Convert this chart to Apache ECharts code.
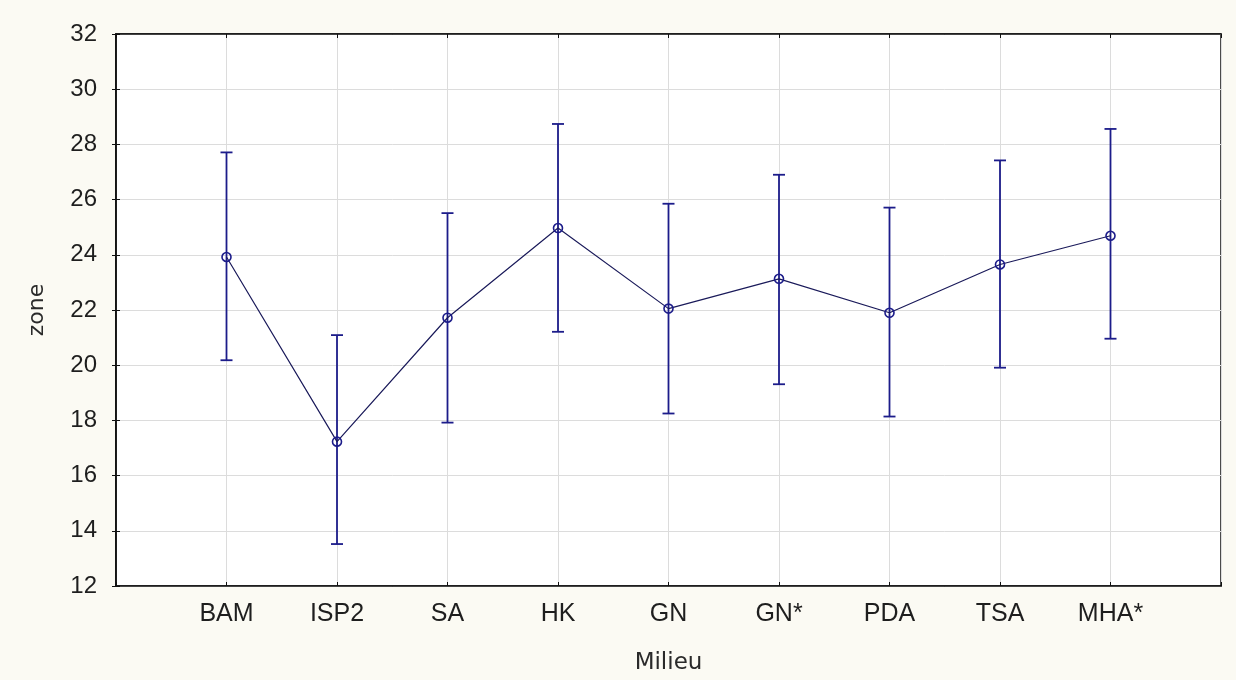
<!DOCTYPE html>
<html>
<head>
<meta charset="utf-8">
<script src="https://cdn.jsdelivr.net/npm/echarts@6/dist/echarts.min.js"></script>
<style>
html,body{margin:0;padding:0;background:#fbfaf3;}
#c{width:1236px;height:680px;}
</style>
</head>
<body>
<div id="c"></div>
<script>
const categories = ['BAM','ISP2','SA','HK','GN','GN*','PDA','TSA','MHA*'];
const means = [23.92, 17.23, 21.72, 24.97, 22.05, 23.13, 21.9, 23.65, 24.69];
const upper = [27.71, 21.09, 25.51, 28.74, 25.85, 26.9, 25.71, 27.42, 28.56];
const lower = [20.18, 13.52, 17.92, 21.21, 18.25, 19.31, 18.14, 19.91, 20.96];
const yTicks = [12, 14, 16, 18, 20, 22, 24, 26, 28, 30, 32];

const navy = '#1c1c8a';
const font = '"Liberation Sans", Arial, sans-serif';
const nameFont = '"DejaVu Sans", sans-serif';

const lineData = means.map((m, i) => [i + 1, m]);
const errData = means.map((m, i) => [i + 1, lower[i], upper[i]]);

const chart = echarts.init(document.getElementById('c'));
chart.setOption({
  backgroundColor: '#fbfaf3',
  animation: false,
  grid: {left: 116, right: 15, top: 34, bottom: 93, show: true, backgroundColor: '#ffffff', borderColor: '#111', borderWidth: 1.5},
  xAxis: [{
    type: 'value', min: 0, max: categories.length + 1, interval: 1,
    name: 'Milieu', nameLocation: 'middle', nameGap: 66,
    nameTextStyle: {fontFamily: nameFont, fontSize: 23, color: '#2a2a2a'},
    axisLine: {show: true, lineStyle: {color: '#111', width: 1.5}},
    axisTick: {show: true, inside: true, length: 4, lineStyle: {color: '#111'}},
    axisLabel: {fontFamily: font, fontSize: 25, color: '#1e1e1e', margin: 16,
      formatter: v => categories[v - 1] || ''},
    splitLine: {show: true, lineStyle: {color: '#dcdcdc', width: 1}}
  }, {
    type: 'value', position: 'top', min: 0, max: categories.length + 1, interval: 1,
    axisLine: {show: true, lineStyle: {color: '#111', width: 1.5}},
    axisTick: {show: true, inside: true, length: 4, lineStyle: {color: '#111'}},
    axisLabel: {show: false}, splitLine: {show: false}
  }],
  yAxis: [{
    type: 'value', min: yTicks[0], max: yTicks[yTicks.length - 1], interval: 2,
    name: 'zone', nameLocation: 'middle', nameGap: 68, nameRotate: 90,
    nameTextStyle: {fontFamily: nameFont, fontSize: 22, color: '#2a2a2a'},
    axisLine: {show: true, lineStyle: {color: '#111', width: 1.5}},
    axisTick: {show: true, inside: true, length: 4, lineStyle: {color: '#111'}},
    axisLabel: {fontFamily: font, fontSize: 24, color: '#1e1e1e', margin: 19},
    splitLine: {show: true, lineStyle: {color: '#dcdcdc', width: 1}}
  }, {
    type: 'value', position: 'right', min: yTicks[0], max: yTicks[yTicks.length - 1], interval: 2,
    axisLine: {show: true, lineStyle: {color: '#111', width: 1.5}},
    axisTick: {show: true, inside: true, length: 4, lineStyle: {color: '#111'}},
    axisLabel: {show: false}, splitLine: {show: false}
  }],
  series: [{
    type: 'custom',
    xAxisIndex: 0, yAxisIndex: 0,
    data: errData,
    renderItem: function (params, api) {
      const x = api.value(0);
      const lo = api.coord([x, api.value(1)]);
      const hi = api.coord([x, api.value(2)]);
      const hw = 6;
      const style = {stroke: navy, lineWidth: 1.8, fill: null};
      return {type: 'group', children: [
        {type: 'line', shape: {x1: lo[0], y1: lo[1], x2: hi[0], y2: hi[1]}, style: style},
        {type: 'line', shape: {x1: lo[0] - hw, y1: lo[1], x2: lo[0] + hw, y2: lo[1]}, style: style},
        {type: 'line', shape: {x1: hi[0] - hw, y1: hi[1], x2: hi[0] + hw, y2: hi[1]}, style: style}
      ]};
    },
    z: 2
  }, {
    type: 'line',
    xAxisIndex: 0, yAxisIndex: 0,
    data: lineData,
    lineStyle: {color: '#1a1a5a', width: 1.2},
    symbol: 'circle', symbolSize: 9,
    itemStyle: {color: 'rgba(255,255,255,0)', borderColor: navy, borderWidth: 1.6},
    z: 3
  }]
});
</script>
</body>
</html>
